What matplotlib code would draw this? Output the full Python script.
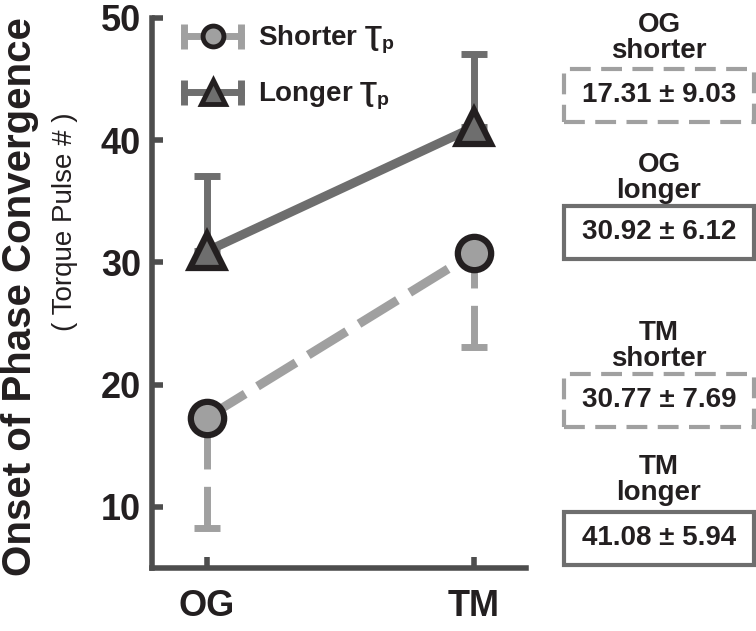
import numpy as np
import matplotlib
matplotlib.use("Agg")
import matplotlib.pyplot as plt
from matplotlib.lines import Line2D
from matplotlib.patches import Rectangle
from matplotlib.legend_handler import HandlerLine2D, HandlerTuple

plt.rcParams['font.family'] = ['Liberation Sans', 'DejaVu Sans']
plt.rcParams['mathtext.fontset'] = 'custom'
plt.rcParams['mathtext.rm'] = 'Liberation Sans:bold'
plt.rcParams['mathtext.it'] = 'Liberation Sans:bold'
plt.rcParams['mathtext.bf'] = 'Liberation Sans:bold'

# data
conditions = ['OG', 'TM']
shorter_mean = [17.31, 30.77]
shorter_sd = [9.03, 7.69]
longer_mean = [30.92, 41.08]
longer_sd = [6.12, 5.94]
box_labels = ['OG\nshorter', 'OG\nlonger', 'TM\nshorter', 'TM\nlonger']
box_values = ['17.31 \u00b1 9.03', '30.92 \u00b1 6.12', '30.77 \u00b1 7.69', '41.08 \u00b1 5.94']

c_short = '#a0a0a0'
c_long = '#6e6e6e'
c_spine = '#4d4d4d'
c_text = '#231f20'

fig = plt.figure(figsize=(7.56, 6.31), dpi=100)
ax = fig.add_axes([152 / 756, 63 / 631, (526 - 152) / 756, (568 - 18) / 631])

x = np.arange(1, len(conditions) + 1)

# shorter: mean line + lower error only
ax.plot(x, shorter_mean, color=c_short, lw=6.5, dashes=(5, 1.6), zorder=2)
eb = ax.errorbar(x, shorter_mean, yerr=[shorter_sd, [0] * len(x)], fmt='none',
                 ecolor=c_short, elinewidth=5, capsize=9.7, capthick=5, zorder=1)
eb[2][0].set_linestyle((0, (6, 2.5)))
ax.plot(x, shorter_mean, ls='none', marker='o', ms=24, mfc=c_short,
        mec='#231f20', mew=4.5, zorder=4)

# longer: mean line + upper error only
ax.plot(x, longer_mean, color=c_long, lw=6.5, zorder=2)
ax.errorbar(x, longer_mean, yerr=[[0] * len(x), longer_sd], fmt='none',
            ecolor=c_long, elinewidth=5, capsize=9.7, capthick=5, zorder=1)
ax.plot(x, longer_mean, ls='none', marker='^', ms=25, mfc=c_long,
        mec='#231f20', mew=4.5, zorder=4)

ax.set_xlim(0.795, 2.195)
ax.set_ylim(5, 50)
ax.set_xticks(x)
ax.set_xticklabels(conditions)
ax.set_yticks([10, 20, 30, 40, 50])

for s in ['top', 'right']:
    ax.spines[s].set_visible(False)
for s in ['left', 'bottom']:
    ax.spines[s].set_linewidth(4)
    ax.spines[s].set_color(c_spine)
ax.tick_params(axis='both', direction='in', length=8, width=4, color=c_spine)
ax.tick_params(axis='y', labelsize=26, pad=8)
ax.tick_params(axis='x', labelsize=26, pad=15)
for lab in ax.get_xticklabels() + ax.get_yticklabels():
    lab.set_fontweight('bold')
    lab.set_color(c_text)

# legend with errorbar-like handles
cap_s = Line2D([], [], color=c_short, lw=5, marker='|', ms=18, mew=5)
dot_s = Line2D([], [], ls='none', marker='o', ms=15, mfc=c_short, mec='#231f20', mew=3.5)
cap_l = Line2D([], [], color=c_long, lw=5, marker='|', ms=18, mew=5)
dot_l = Line2D([], [], ls='none', marker='^', ms=17, mfc=c_long, mec='#231f20', mew=3.5)
hmap = {cap_s: HandlerLine2D(numpoints=2, marker_pad=0), cap_l: HandlerLine2D(numpoints=2, marker_pad=0),
        dot_s: HandlerLine2D(numpoints=1), dot_l: HandlerLine2D(numpoints=1),
        tuple: HandlerTuple(ndivide=1, pad=0)}
leg = ax.legend([(cap_s, dot_s), (cap_l, dot_l)],
                ['Shorter $\u01ae_p$', 'Longer $\u01ae_p$'],
                handler_map=hmap, loc='upper left', bbox_to_anchor=(0.02, 1.035),
                frameon=False, handlelength=2.05, handletextpad=0.6,
                labelspacing=0.9, prop={'size': 20, 'weight': 'bold'})
for t in leg.get_texts():
    t.set_color(c_text)

# y labels
fig.text(20 / 756, 1 - 297 / 631, 'Onset of Phase Convergence', rotation=90,
         ha='center', va='center', fontsize=29, fontweight='bold', color=c_text)
fig.text(65 / 756, 1 - 222 / 631, '( Torque Pulse # )', rotation=90,
         ha='center', va='center', fontsize=20, color=c_text)

# summary boxes on the right
box_centers = [95, 232, 400, 538]
label_centers = [38, 178, 346, 480]
box_styles = [(c_short, (0, (5, 2.5))), (c_long, '-'), (c_short, (0, (5, 2.5))), (c_long, '-')]
bw, bh = 190 / 756, 53 / 631
for lab, val, yc, yl, (ec, ls) in zip(box_labels, box_values, box_centers, label_centers, box_styles):
    cx = 659 / 756
    cy = 1 - yc / 631
    fig.patches.append(Rectangle((cx - bw / 2, cy - bh / 2), bw, bh, transform=fig.transFigure,
                                 fill=False, edgecolor=ec, lw=3, linestyle=ls))
    fig.text(cx, cy, val, ha='center', va='center', fontsize=20, fontweight='bold', color=c_text)
    fig.text(cx, 1 - yl / 631, lab, ha='center', va='center', fontsize=20, fontweight='bold',
             color=c_text, linespacing=0.95)

fig.savefig('out.png', dpi=100, facecolor='white')
